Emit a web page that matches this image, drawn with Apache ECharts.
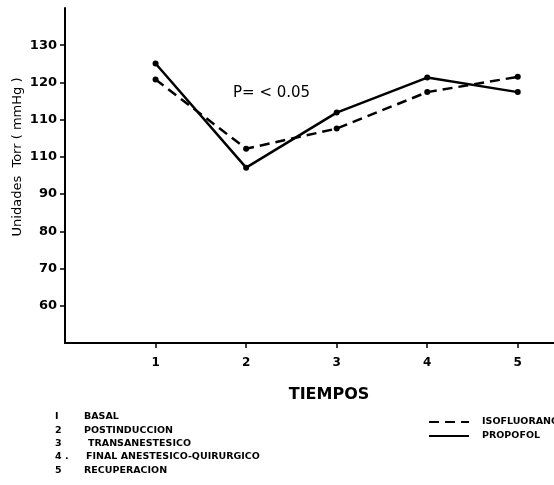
<!DOCTYPE html>
<html>
<head>
<meta charset="utf-8">
<script src="https://cdn.jsdelivr.net/npm/echarts@6/dist/echarts.min.js"></script>
<style>html,body{margin:0;padding:0;background:#fff;}#chart{width:554px;height:485px;}</style>
</head>
<body>
<div id="chart"></div>
<script>
// ---- data ----
var tiempos = [1, 2, 3, 4, 5];
var isofluorano = [120.8, 102.2, 107.6, 117.4, 121.5];
var propofol = [125.1, 97.1, 111.9, 121.3, 117.4];
var yTickValues = [60, 70, 80, 90, 100, 110, 120, 130];
var yTickLabels = ["60", "70", "80", "90", "110", "110", "120", "130"];
var xTickLabels = ["1", "2", "3", "4", "5"];
var seriesNames = ["ISOFLUORANO", "PROPOFOL"];
var yAxisTitle = "Unidades  Torr ( mmHg )";
var xAxisTitle = "TIEMPOS";
var pText = "P= < 0.05";
var noteNums = ["I", "2", "3", "4 .", "5"];
var noteTexts = ["BASAL", "POSTINDUCCION", "TRANSANESTESICO", "FINAL ANESTESICO-QUIRURGICO", "RECUPERACION"];

var FONT = "DejaVu Sans";
function pairs(vals) { return tiempos.map(function (t, i) { return [t, vals[i]]; }); }

var graphics = [
  { type: 'text', x: 18, y: 157, rotation: Math.PI / 2, style: { text: yAxisTitle, font: '13px "' + FONT + '"', fill: '#000', textAlign: 'center', textVerticalAlign: 'middle' } },
  { type: 'text', x: 233, y: 93, style: { text: pText, font: '15px "' + FONT + '"', fill: '#000', textAlign: 'left', textVerticalAlign: 'middle' } },
  { type: 'text', x: 329, y: 395, style: { text: xAxisTitle, font: 'bold 16px "' + FONT + '"', fill: '#000', textAlign: 'center', textVerticalAlign: 'middle' } }
];
var noteX = [55, 55, 55, 55, 55];
var noteTX = [84, 84, 88, 86, 84];
noteNums.forEach(function (n, i) {
  graphics.push({ type: 'text', x: noteX[i], y: 417 + i * 13.3, style: { text: n, font: 'bold 9.5px "' + FONT + '"', fill: '#000', textVerticalAlign: 'middle' } });
  graphics.push({ type: 'text', x: noteTX[i], y: 417 + i * 13.3, style: { text: noteTexts[i], font: 'bold 9.5px "' + FONT + '"', fill: '#000', textVerticalAlign: 'middle' } });
});

var chart = echarts.init(document.getElementById('chart'), null, { renderer: 'canvas' });
chart.setOption({
  animation: false,
  backgroundColor: '#fff',
  grid: { left: 65, top: 8, width: 497, height: 335, containLabel: false },
  legend: {
    orient: 'vertical', left: 423, top: 412, itemWidth: 40, itemHeight: 6, itemGap: 4,
    itemStyle: { opacity: 0 },
    textStyle: { fontFamily: FONT, fontSize: 9.5, fontWeight: 'bold', color: '#000', padding: [0, 0, 0, 8] },
    data: seriesNames
  },
  xAxis: {
    type: 'value', min: 0, max: 5.4,
    splitLine: { show: false },
    axisLine: { lineStyle: { color: '#000', width: 2 } },
    axisTick: { show: true, customValues: tiempos, length: 5, lineStyle: { color: '#000', width: 1.5 } },
    axisLabel: { customValues: tiempos, margin: 14, color: '#000', fontFamily: FONT, fontSize: 12, fontWeight: 'bold',
      formatter: function (v) { var i = tiempos.indexOf(v); return i >= 0 ? xTickLabels[i] : ''; } }
  },
  yAxis: {
    type: 'value', min: 50, max: 140, interval: 10,
    splitLine: { show: false },
    axisLine: { lineStyle: { color: '#000', width: 2 } },
    axisTick: { show: true, customValues: yTickValues, length: 5, lineStyle: { color: '#000', width: 1.5 } },
    axisLabel: { customValues: yTickValues, margin: 8, color: '#000', fontFamily: FONT, fontSize: 13, fontWeight: 'bold',
      formatter: function (v) { var i = yTickValues.indexOf(v); return i >= 0 ? yTickLabels[i] : ''; } }
  },
  series: [
    { name: seriesNames[0], type: 'line', data: pairs(isofluorano), symbol: 'circle', symbolSize: 6,
      itemStyle: { color: '#000' }, lineStyle: { color: '#000', width: 2.5, type: [10, 6] } },
    { name: seriesNames[1], type: 'line', data: pairs(propofol), symbol: 'circle', symbolSize: 6,
      itemStyle: { color: '#000' }, lineStyle: { color: '#000', width: 2.5, type: 'solid' } }
  ],
  graphic: graphics
});
</script>
</body>
</html>
